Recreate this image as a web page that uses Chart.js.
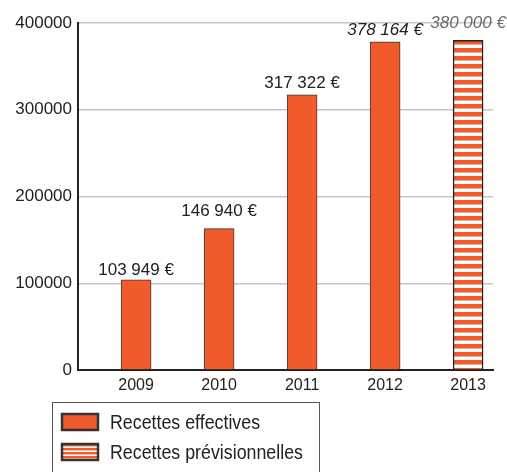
<!DOCTYPE html>
<html>
<head>
<meta charset="utf-8">
<script src="https://cdn.jsdelivr.net/npm/chart.js@4"></script>
<style>
  html, body { margin: 0; padding: 0; background: #fff; }
  canvas { display: block; }
</style>
</head>
<body>
<canvas id="chart" width="507" height="472"></canvas>
<script>
// données
const years = ['2009', '2010', '2011', '2012', '2013'];
const actualValues = [103949, 163000, 317322, 378164, null];
const forecastValues = [null, null, null, null, 380000];
const valueLabels = ['103 949 €', '146 940 €', '317 322 €', '378 164 €', '380 000 €'];
const yTicks = [0, 100000, 200000, 300000, 400000];

const orange = '#F15A2B';

// motif rayé pour les recettes prévisionnelles
function stripes(period, band) {
  const c = document.createElement('canvas');
  c.width = 8; c.height = period;
  const g = c.getContext('2d');
  g.fillStyle = '#fff';
  g.fillRect(0, 0, 8, period);
  g.fillStyle = orange;
  g.fillRect(0, 0, 8, band);
  return g.createPattern(c, 'repeat');
}
const stripePattern = stripes(8, 4.5);
const legendStripes = stripes(4, 2.4);

const toPoints = (arr) => arr.map((v, i) => (v === null ? null : { x: i, y: v })).filter(p => p);

// étiquettes au-dessus des barres
const labelGap = [3, 11, 5, 5, 11];
const valueLabelPlugin = {
  id: 'valueLabels',
  afterDatasetsDraw(chart) {
    const ctx = chart.ctx;
    ctx.save();
    ctx.textAlign = 'center';
    ctx.textBaseline = 'bottom';
    chart.data.datasets.forEach((ds, di) => {
      chart.getDatasetMeta(di).data.forEach((bar, j) => {
        const idx = ds.data[j].x;
        const italic = idx >= 3;
        ctx.font = (italic ? 'italic ' : '') + '17px "Liberation Sans", Arial, sans-serif';
        ctx.fillStyle = idx === 4 ? '#6a6a6a' : '#222';
        ctx.fillText(valueLabels[idx], bar.x, bar.y - labelGap[idx] + 2);
      });
    });
    ctx.restore();
  }
};

// légende encadrée sous le graphique
const boxLegendPlugin = {
  id: 'boxLegend',
  afterDraw(chart) {
    const ctx = chart.ctx;
    ctx.save();
    ctx.strokeStyle = '#555';
    ctx.lineWidth = 1;
    ctx.strokeRect(52.5, 402.5, 267, 90);
    chart.data.datasets.forEach((ds, i) => {
      const y = 413 + i * 30;
      ctx.fillStyle = i === 1 ? legendStripes : ds.backgroundColor;
      ctx.fillRect(61, y, 38, 18);
      ctx.strokeStyle = '#333';
      ctx.lineWidth = 2.5;
      ctx.strokeRect(62, y + 1, 36, 16);
      ctx.fillStyle = '#222';
      ctx.font = '20px "Liberation Sans", Arial, sans-serif';
      ctx.textAlign = 'left';
      ctx.textBaseline = 'middle';
      // police étroite : compression horizontale
      ctx.save();
      ctx.translate(110, y + 10);
      ctx.scale(0.89, 1);
      ctx.fillText(ds.label, 0, 0);
      ctx.restore();
    });
    ctx.restore();
  }
};

new Chart(document.getElementById('chart'), {
  type: 'bar',
  data: {
    datasets: [
      {
        label: 'Recettes effectives',
        data: toPoints(actualValues),
        backgroundColor: orange,
        borderColor: '#3a3a3a',
        borderWidth: 1,
        barThickness: 30,
        grouped: false
      },
      {
        label: 'Recettes prévisionnelles',
        data: toPoints(forecastValues),
        backgroundColor: stripePattern,
        borderColor: '#222',
        borderWidth: 1.5,
        barThickness: 30,
        grouped: false
      }
    ]
  },
  options: {
    responsive: false,
    animation: false,
    devicePixelRatio: 1,
    layout: { padding: { top: 23, right: 14, bottom: 62, left: 0 } },
    plugins: {
      legend: { display: false },
      tooltip: { enabled: false }
    },
    scales: {
      x: {
        type: 'linear',
        min: -0.7,
        max: 4.3,
        offset: false,
        afterBuildTicks: (axis) => { axis.ticks = years.map((_, i) => ({ value: i })); },
        afterFit: (axis) => { axis.height = 40; },
        grid: { display: false },
        border: { display: true, color: '#222', width: 2 },
        ticks: {
          padding: -2,
          color: '#222',
          font: { family: '"Liberation Sans", Arial, sans-serif', size: 16 },
          callback: (v) => years[v] ?? ''
        }
      },
      y: {
        min: 0,
        max: 400000,
        afterBuildTicks: (axis) => { axis.ticks = yTicks.map(v => ({ value: v })); },
        afterFit: (axis) => { axis.width = 78; },
        grid: { color: '#c6c6c6', lineWidth: 1.5, drawTicks: false },
        border: { display: true, color: '#222', width: 2 },
        ticks: {
          padding: 6,
          color: '#222',
          font: { family: '"Liberation Sans", Arial, sans-serif', size: 17 },
          callback: (v) => String(v)
        }
      }
    }
  },
  plugins: [valueLabelPlugin, boxLegendPlugin]
});
</script>
</body>
</html>
